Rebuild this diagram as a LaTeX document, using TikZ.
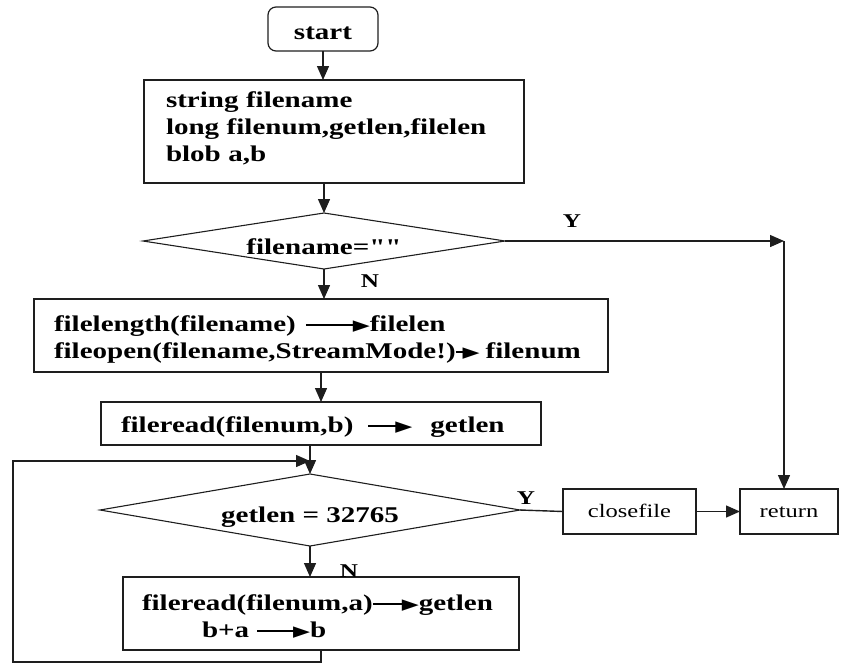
\documentclass[tikz,border=0pt]{standalone}
\usepackage{fontspec}
\usepackage{graphicx}
\setmainfont[FakeStretch=1.29]{Liberation Serif}
\newfontfamily\qfont[FakeStretch=1.29]{Liberation Serif}
\newfontfamily\symfont{DejaVu Sans}
\usetikzlibrary{arrows.meta,shapes.geometric}
\definecolor{linec}{RGB}{30,30,30}
\newcommand\inarr[1]{\rule[5.5pt]{#1}{1.5pt}\kern-1pt\raisebox{0.8pt}{\resizebox*{17pt}{11.5pt}{\symfont ▶}}}
\tikzset{
  boxbase/.style={draw=linec, line width=1.4pt, rectangle, anchor=north west,
    inner xsep=20pt, inner ysep=0pt, outer sep=0pt, align=left,
    font=\bfseries\fontsize{22.5pt}{27pt}\selectfont},
  smallbox/.style={draw=linec, line width=1.2pt, rectangle, inner sep=0pt, outer sep=0pt,
    font=\fontsize{19pt}{22pt}\selectfont},
  dia/.style={draw=linec, line width=1.1pt, diamond, inner sep=0pt, outer sep=0pt,
    font=\bfseries\fontsize{22.5pt}{27pt}\selectfont},
  yn/.style={font=\bfseries\fontsize{19.5pt}{22pt}\selectfont, inner sep=0pt},
  flow/.style={draw=linec, line width=1.4pt, -{Triangle[length=14pt,width=12pt]}},
  plain/.style={draw=linec, line width=1.4pt}
}
\begin{document}
\begin{tikzpicture}[x=1pt,y=-1pt]
\useasboundingbox (0,0) rectangle (841,664);
% start
\node[draw=linec, line width=1.2pt, rounded corners=8pt, minimum width=110pt, minimum height=44pt,
  inner sep=0pt, outer sep=0pt, font=\bfseries\fontsize{22.5pt}{27pt}\selectfont]
  (st) at (323,29) {\raisebox{-10pt}[0pt][0pt]{start}};
% declarations
\node[boxbase, text width=336pt, inner xsep=22pt, text height=27pt, text depth=76pt]
  (decl) at (144,80) {\mbox{string filename}\\\mbox{long filenum,getlen,filelen}\\\mbox{blob a,b}};
% decision 1
\node[dia, aspect=6.46, minimum width=362pt, minimum height=56pt] (d1) at (324,241)
  {\raisebox{-13pt}[0pt][0pt]{filename={\qfont\bfseries ""}}};
% box 2
\node[boxbase, text width=534pt, text height=32pt, text depth=41pt]
  (b2) at (34,299) {\mbox{filelength(filename)\hspace{10pt}\inarr{48pt}filelen}\\
  \mbox{fileopen(filename,StreamMode!)\inarr{8pt}\hspace{6pt}filenum}};
% box 3
\node[boxbase, text width=400pt, inner xsep=20pt, text height=30pt, text depth=13pt]
  (b3) at (101,402) {\mbox{fileread(filenum,b)\hspace{15pt}\inarr{28pt}\hspace{18pt}getlen}};
% decision 2
\node[dia, aspect=5.83, minimum width=420pt, minimum height=72pt] (d2) at (310,510)
  {\raisebox{-12pt}[0pt][0pt]{getlen = 32765}};
% box 4
\node[boxbase, text width=358pt, inner xsep=19pt, text height=33pt, text depth=40pt]
  (b4) at (123,577) {\mbox{fileread(filenum,a)\inarr{30pt}getlen}\\
  \mbox{\hspace*{60pt}b+a\hspace{8pt}\inarr{37pt}b}};
% closefile, return
\node[smallbox, minimum width=133pt, minimum height=45pt] (cf) at (629.5,511.5)
  {\raisebox{-6pt}[0pt][0pt]{closefile}};
\node[smallbox, minimum width=98pt, minimum height=45pt] (ret) at (789,511.5)
  {\raisebox{-6pt}[0pt][0pt]{return}};
% labels
\node[yn] (y1) at (572,221) {Y};
\node[yn] (n1) at (370,281) {N};
\node[yn] (y2) at (526,498) {Y};
\node[yn] (n2) at (349,571) {N};
% coordinates
\coordinate (c1) at (784,241);
\coordinate (l2) at (13,662);
\coordinate (l3) at (13,461);
% connectors
\draw[flow] (st.south) -- (st.south |- decl.north);
\draw[flow] (d1.north |- decl.south) -- (d1.north);
\draw[flow] (d1.south) -- (d1.south |- b2.north);
\draw[flow] (b3.north |- b2.south) -- (b3.north);
\draw[flow] (d2.north |- b3.south) -- (d2.north);
\draw[flow] (d2.south) -- (d2.south |- b4.north);
\draw[flow] (d1.east) -- (c1);
\draw[flow] (c1) -- (c1 |- ret.north);
\draw[plain] (d2.east) -- (cf.west);
\draw[flow] (cf.east) -- (ret.west);
\draw[flow] (b4.south) |- (l2) |- (d2.north |- l3);
\end{tikzpicture}
\end{document}
